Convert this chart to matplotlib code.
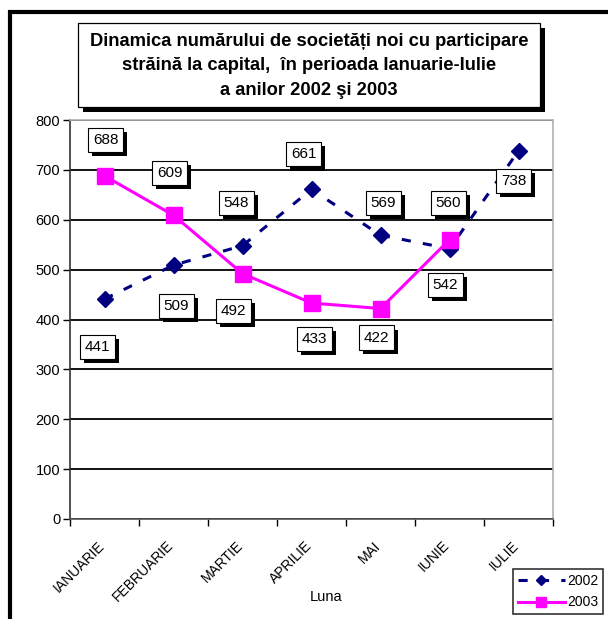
import matplotlib
matplotlib.use("Agg")
from matplotlib import pyplot as plt
from matplotlib import patheffects
from matplotlib import transforms
from matplotlib.patches import Rectangle

plt.rcParams["font.family"] = ["Liberation Sans", "DejaVu Sans"]

# data
months = ["IANUARIE", "FEBRUARIE", "MARTIE", "APRILIE", "MAI", "IUNIE", "IULIE"]
values_2002 = [441, 509, 548, 661, 569, 542, 738]
values_2003 = [688, 609, 492, 433, 422, 560]

# label offsets in pixels (dx, dy) from each point
offsets_2002 = [(-7, -48), (3, -41), (-6, 43), (-8, 35), (3, 32), (-4, -36), (-5, -30)]
offsets_2003 = [(1, 36), (-4, 42), (-9, -37), (3, -36), (-4, -29), (-1, 37)]

W, H = 608, 619
fig = plt.figure(figsize=(W / 100, H / 100), dpi=100)
ax = fig.add_axes([70 / W, 1 - 519 / H, (553 - 70) / W, (519 - 120) / H])

x = list(range(len(months)))
x3 = x[:len(values_2003)]

ax.plot(x, values_2002, color="#000080", linestyle=(0, (3, 4)), linewidth=2.2,
        marker="D", markersize=8, label="2002", zorder=3)
ax.plot(x3, values_2003, color="#FF00FF", linestyle="-", linewidth=2.2,
        marker="s", markersize=11, label="2003", zorder=4)

shadow = [patheffects.withSimplePatchShadow(offset=(3, -3), shadow_rgbFace="black", alpha=1)]


def add_labels(xs, ys, offs):
    for xi, yi, (dx, dy) in zip(xs, ys, offs):
        ann = ax.annotate(str(yi), (xi, yi), xytext=(dx, dy), textcoords="offset pixels",
                          ha="center", va="center", fontsize=11, zorder=6,
                          bbox=dict(boxstyle="square,pad=0.33", fc="white", ec="black", lw=0.8))
        ann.get_bbox_patch().set_path_effects(shadow)


add_labels(x, values_2002, offsets_2002)
add_labels(x3, values_2003, offsets_2003)

ax.set_xlim(-0.5, len(months) - 0.5)
ax.set_ylim(0, 800)
ax.set_yticks(range(0, 801, 100))
ax.set_xticks([i - 0.5 for i in range(len(months) + 1)], minor=False)
ax.set_xticklabels([])
ax.set_xticks(x, minor=True)
ax.set_xticklabels(months, minor=True, rotation=45, ha="right", va="top",
                   rotation_mode="anchor", fontsize=10)
ax.tick_params(axis="x", which="minor", length=0, pad=14)
ax.tick_params(axis="x", which="major", length=5, width=1, direction="out")
ax.tick_params(axis="y", length=5, width=1, direction="out", labelsize=10.5, pad=2)
shift = transforms.ScaledTranslation(-7 / 100, 0, fig.dpi_scale_trans)
for lbl in ax.xaxis.get_minorticklabels():
    lbl.set_transform(lbl.get_transform() + shift)

ax.yaxis.grid(True, color="black", linewidth=1.3)
ax.set_axisbelow(True)
ax.spines["top"].set_color("#b0b0b0")
ax.spines["right"].set_color("#b0b0b0")
ax.spines["left"].set_color("#333333")
ax.spines["bottom"].set_color("#555555")
for s in ax.spines.values():
    s.set_linewidth(1.2)

ax.set_xlabel("Luna", fontsize=10.5, labelpad=0)
ax.xaxis.set_label_coords((326 - 70) / (553 - 70), -(590 - 519) / (519 - 120))

# title box
title_box = Rectangle((78 / W, 1 - 107 / H), (540 - 78) / W, (107 - 23) / H,
                      transform=fig.transFigure, fc="white", ec="black", lw=0.9)
title_box.set_path_effects(
    [patheffects.withSimplePatchShadow(offset=(3.5, -3.5), shadow_rgbFace="black", alpha=1)])
fig.patches.append(title_box)
fig.text(309 / W, 1 - 66 / H,
         "Dinamica numărului de societăți noi cu participare\n"
         "străină la capital,  în perioada Ianuarie-Iulie\n"
         "a anilor 2002 şi 2003",
         ha="center", va="center", fontsize=13.2, fontweight="bold", linespacing=1.55)

# legend
leg = fig.legend(loc="upper left", bbox_to_anchor=(513 / W, 1 - 569 / H), frameon=True,
                 fancybox=False, edgecolor="black", fontsize=10, handlelength=3.4,
                 handletextpad=0.15, borderpad=0.35, labelspacing=0.55, borderaxespad=0,
                 markerscale=0.7)
leg.get_frame().set_linewidth(1.2)

# outer chart border
fig.patches.append(Rectangle((10 / W, -0.1), 1.2, 1 - 12 / H + 0.1, transform=fig.transFigure,
                             fill=False, ec="black", lw=3, clip_on=False))

fig.savefig("out.png", dpi=100)
